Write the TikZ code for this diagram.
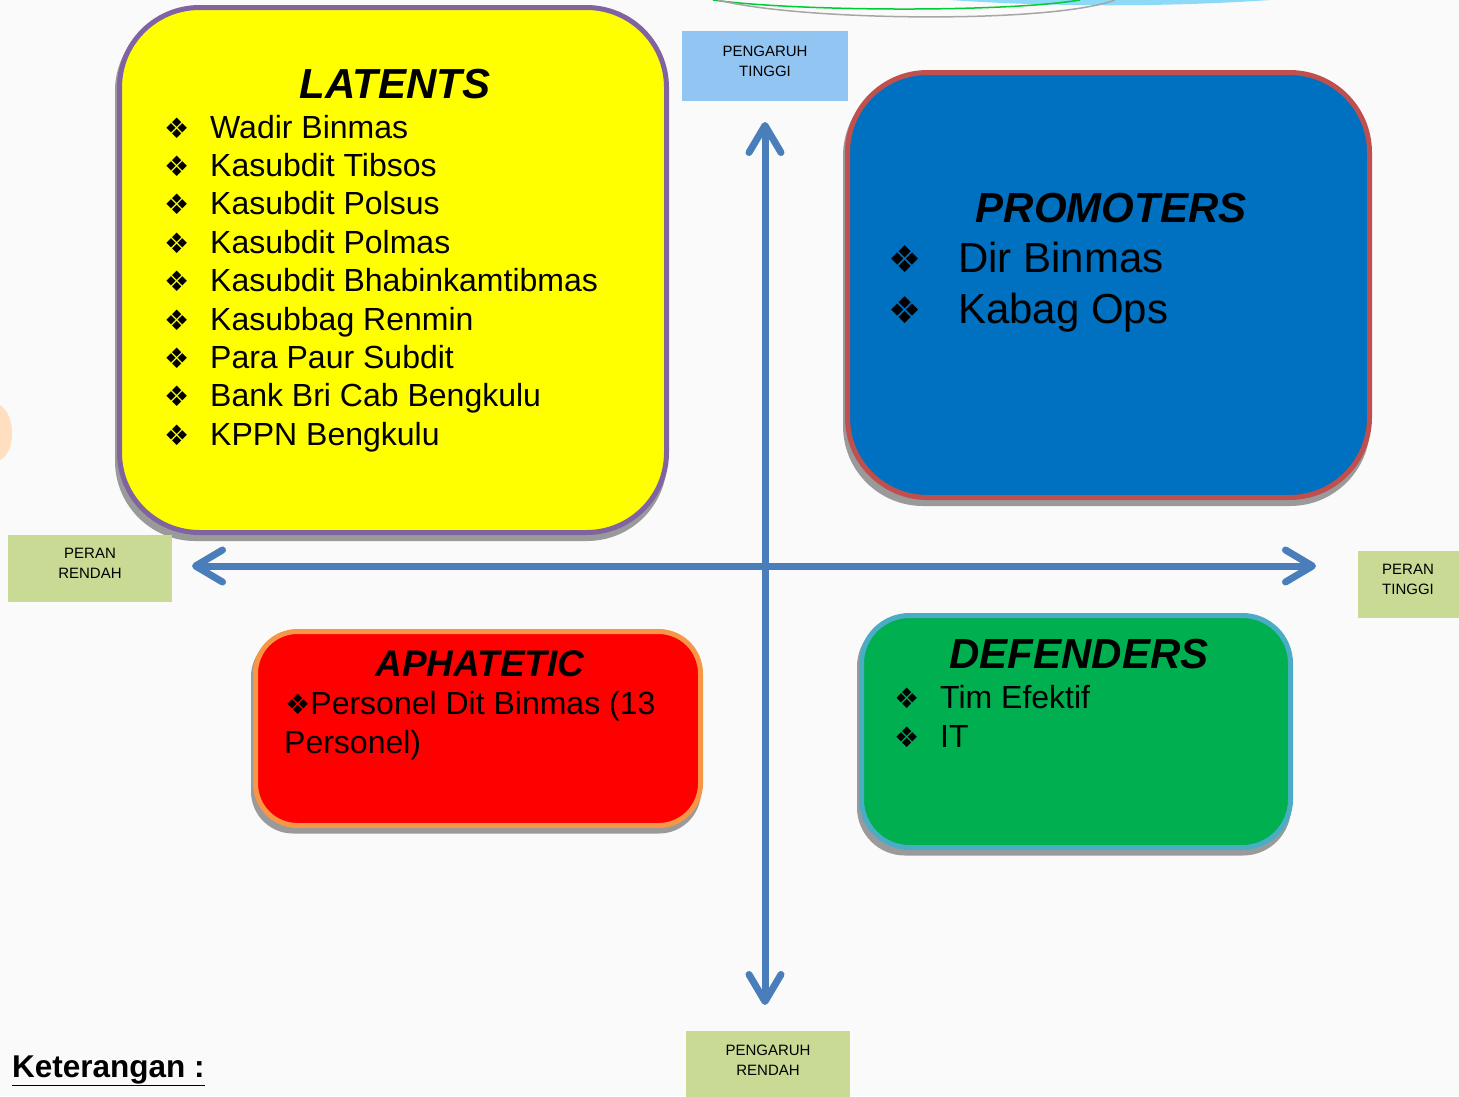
\documentclass[tikz,border=0pt]{standalone}
\usepackage{fontspec}
\setmainfont{Liberation Sans}
\newfontfamily\symfont{DejaVu Sans}
\usetikzlibrary{arrows.meta}
\definecolor{bgc}{HTML}{FAFAFA}
\definecolor{latfill}{HTML}{FFFF00}
\definecolor{latedge}{HTML}{8064A2}
\definecolor{profill}{HTML}{0070C0}
\definecolor{proedge}{HTML}{C0504D}
\definecolor{apafill}{HTML}{FF0000}
\definecolor{apaedge}{HTML}{F79646}
\definecolor{deffill}{HTML}{00B050}
\definecolor{defedge}{HTML}{4BACC6}
\definecolor{axisc}{HTML}{4A7EBB}
\definecolor{lblblue}{HTML}{93C5F3}
\definecolor{lblgreen}{HTML}{C9DA94}
\definecolor{shadowc}{HTML}{9A9A9A}
\tikzset{
  quad/.style={draw, line width=5pt, inner sep=0pt},
  shadowbox/.style={fill=shadowc, draw=none, inner sep=0pt},
  ttl/.style={font=\fontsize{42}{48}\selectfont\bfseries\itshape, inner sep=0pt, anchor=base},
  itemS/.style={font=\fontsize{32}{38}\selectfont, inner sep=0pt, anchor=base west},
  itemL/.style={font=\fontsize{42}{48}\selectfont, inner sep=0pt, anchor=base west},
  lbl/.style={font=\fontsize{15}{20}\selectfont, align=center, inner sep=0pt},
  axis/.style={draw=axisc, line width=7pt, line cap=round,
    {Straight Barb[length=27pt,width=32pt,round]}-{Straight Barb[length=27pt,width=32pt,round]}}
}
\newcommand{\bul}{{\symfont\scalebox{0.88}{❖}}}
\begin{document}
\begin{tikzpicture}[x=1pt,y=-1pt]
\useasboundingbox (0,0) rectangle (1459,1096);
\fill[bgc] (0,0) rectangle (1459,1096);
% top decoration
\fill[cyan!45!white] (950,0) .. controls (1050,7) and (1170,7) .. (1270,0) -- cycle;
\draw[green!60!teal, line width=1.5pt] (713,0) .. controls (790,11) and (1000,13) .. (1080,0);
\draw[gray!70, line width=1.5pt] (718,0) .. controls (800,21) and (1050,24) .. (1115,0);
% left decoration
\fill[orange!25!white] (0,405) .. controls (16,415) and (16,452) .. (0,460) -- cycle;
% shadows
\node[shadowbox, rounded corners=80pt, minimum width=552pt, minimum height=530pt] (latsh) at (391,276) {};
\node[shadowbox, rounded corners=80pt, minimum width=527pt, minimum height=430pt] (prosh) at (1106.5,291) {};
\node[shadowbox, rounded corners=42pt, minimum width=450pt, minimum height=199pt] (apash) at (476,734) {};
\node[shadowbox, rounded corners=48pt, minimum width=434pt, minimum height=237pt] (defsh) at (1074,737) {};
% boxes
\node[quad, draw=latedge, fill=latfill, rounded corners=80pt, minimum width=547pt, minimum height=525pt] (latents) at (393,270) {};
\node[quad, draw=proedge, fill=profill, rounded corners=80pt, minimum width=522pt, minimum height=425pt] (promoters) at (1108.5,285) {};
\node[quad, draw=apaedge, fill=apafill, rounded corners=42pt, minimum width=445pt, minimum height=194pt] (aphatetic) at (478,728.5) {};
\node[quad, draw=defedge, fill=deffill, rounded corners=48pt, minimum width=429pt, minimum height=232pt] (defenders) at (1076,731.5) {};
% label boxes
\node[fill=lblblue, minimum width=166pt, minimum height=70pt, inner sep=0pt] (pt) at (765,66) {};
\node[lbl] (pttext) at (765,61) {PENGARUH\\TINGGI};
\node[fill=lblgreen, minimum width=164pt, minimum height=67pt, inner sep=0pt] (pr) at (90,568.5) {};
\node[lbl] (prtext) at (90,563) {PERAN\\RENDAH};
\node[fill=lblgreen, minimum width=101pt, minimum height=67pt, inner sep=0pt] (ptg) at (1408.5,584.5) {};
\node[lbl] (ptgtext) at (1408,579) {PERAN\\TINGGI};
\node[fill=lblgreen, minimum width=164pt, minimum height=66pt, inner sep=0pt] (prd) at (768,1064) {};
\node[lbl] (prdtext) at (768,1060) {PENGARUH\\RENDAH};
% axes
\coordinate (vtop) at (765,122);
\coordinate (vbot) at (765,1005);
\coordinate (hleft) at (192,566);
\coordinate (hright) at (1316,566);
\draw[axis] (vtop) -- (vbot);
\draw[axis] (hleft) -- (hright);
% LATENTS text
\node[ttl] (lattitle) at (395,98) {LATENTS};
\foreach \t [count=\i] in {Wadir Binmas,Kasubdit Tibsos,Kasubdit Polsus,Kasubdit Polmas,Kasubdit Bhabinkamtibmas,Kasubbag Renmin,Para Paur Subdit,Bank Bri Cab Bengkulu,KPPN Bengkulu}{
  \node[itemS] (latb\i) at (164,{138+(\i-1)*38.4}) {\bul};
  \node[itemS] (lat\i) at (210,{138+(\i-1)*38.4}) {\t};
}
% PROMOTERS text
\node[ttl] (protitle) at (1111,222) {PROMOTERS};
\node[itemL] (prob1) at (888,272) {\bul};
\node[itemL] (pro1) at (958,272) {Dir Binmas};
\node[itemL] (prob2) at (888,323) {\bul};
\node[itemL] (pro2) at (958,323) {Kabag Ops};
% APHATETIC text
\node[ttl, font=\fontsize{37}{44}\selectfont\bfseries\itshape] (apatitle) at (480,676) {APHATETIC};
\node[itemS] (apa1) at (285,714) {\bul Personel Dit Binmas (13};
\node[itemS] (apa2) at (284,753) {Personel)};
% DEFENDERS text
\node[ttl] (deftitle) at (1079,668) {DEFENDERS};
\node[itemS] (defb1) at (894,708) {\bul};
\node[itemS] (def1) at (940,708) {Tim Efektif};
\node[itemS] (defb2) at (894,747) {\bul};
\node[itemS] (def2) at (940,747) {IT};
% Keterangan
\node[anchor=base west, inner sep=0pt, font=\fontsize{31.5}{38}\selectfont\bfseries] (ket) at (12,1077) {\underline{Keterangan :}};
\end{tikzpicture}
\end{document}
